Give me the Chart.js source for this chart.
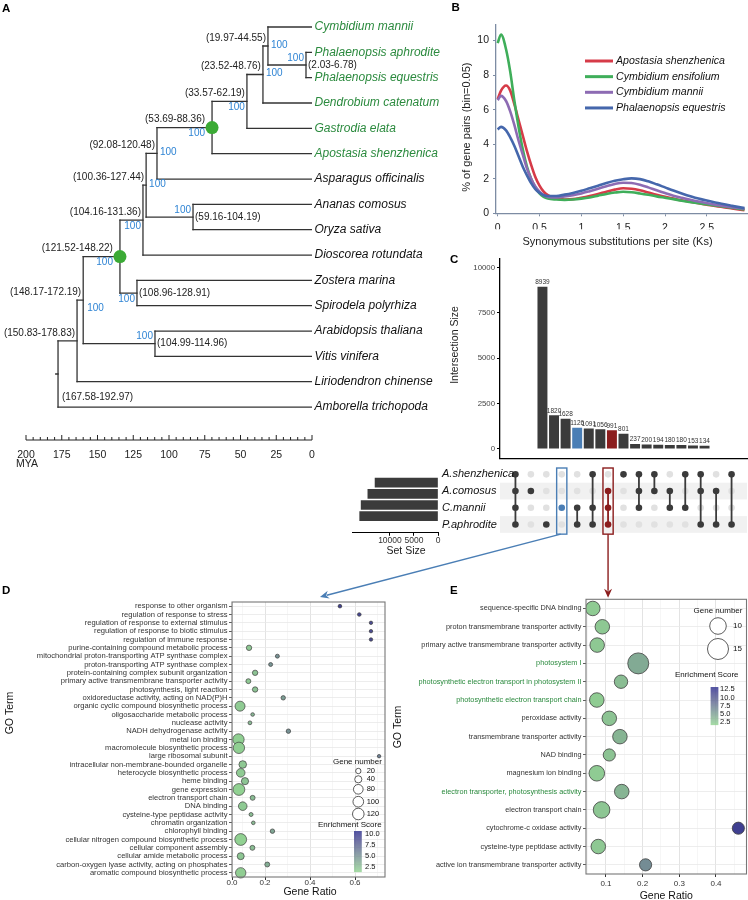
<!DOCTYPE html>
<html>
<head>
<meta charset="utf-8">
<title>Orchid genome figure</title>
<script src="https://cdn.jsdelivr.net/npm/chart.js@4.4.1/dist/chart.umd.min.js"></script>
<style>
html,body{margin:0;padding:0;background:#ffffff;}
body{position:relative;width:748px;height:900px;overflow:hidden;}
canvas{position:absolute;display:block;}
.plab{position:absolute;font-family:"Liberation Sans",Arial,sans-serif;font-weight:bold;font-size:11.5px;line-height:11.5px;color:#000;}
</style>
</head>
<body>
<canvas id="cTree" width="470" height="475" style="left:0px;top:0px"></canvas>
<canvas id="cKs" width="378" height="250" style="left:370px;top:0px"></canvas>
<canvas id="cUp" width="378" height="215" style="left:370px;top:250px"></canvas>
<canvas id="cSet" width="105" height="100" style="left:340px;top:460px"></canvas>
<canvas id="cMat" width="308" height="80" style="left:440px;top:460px"></canvas>
<canvas id="cD" width="386" height="320" style="left:0px;top:580px"></canvas>
<canvas id="cE" width="362" height="320" style="left:386px;top:580px"></canvas>
<canvas id="cOv" width="748" height="900" style="left:0px;top:0px;pointer-events:none"></canvas>
<div class="plab" style="left:2px;top:2.7px">A</div>
<div class="plab" style="left:451.5px;top:1.7px">B</div>
<div class="plab" style="left:450px;top:253.7px">C</div>
<div class="plab" style="left:2px;top:584.7px">D</div>
<div class="plab" style="left:450px;top:585.4px">E</div>
<script>
const FONT='"Liberation Sans", Arial, Helvetica, sans-serif';
Chart.defaults.font.family=FONT;
Chart.defaults.color='#222';
Chart.defaults.animation=false;

// ================= DATA =================
// ---- Panel A: dated phylogeny ----
const leafNames=['Cymbidium mannii','Phalaenopsis aphrodite','Phalaenopsis equestris','Dendrobium catenatum','Gastrodia elata','Apostasia shenzhenica','Asparagus officinalis','Ananas comosus','Oryza sativa','Dioscorea rotundata','Zostera marina','Spirodela polyrhiza','Arabidopsis thaliana','Vitis vinifera','Liriodendron chinense','Amborella trichopoda'];
const leafOrchid=[1,1,1,1,1,1,0,0,0,0,0,0,0,0,0,0];
// internal nodes (ids 16..30): children ids
const nodeChildren=[[1,2],[0,16],[17,3],[18,4],[19,5],[20,6],[7,8],[21,22],[23,9],[10,11],[24,25],[12,13],[26,27],[28,14],[29,15]];
const nodeAges=[4.2,30.8,34.3,45.5,69.9,108.4,83.2,116.0,118.2,122.4,134.3,109.8,160.0,164.3,177.6];
const nodeCI=['(2.03-6.78)','(19.97-44.55)','(23.52-48.76)','(33.57-62.19)','(53.69-88.36)','(92.08-120.48)','(59.16-104.19)','(100.36-127.44)','(104.16-131.36)','(108.96-128.91)','(121.52-148.22)','(104.99-114.96)','(148.17-172.19)','(150.83-178.83)','(167.58-192.97)'];
const nodeSupport=[100,100,100,100,100,100,100,100,100,100,100,100,100,null,null];
const calibratedNodes=[20,26];
const timeTickLabels=[200,175,150,125,100,75,50,25,0];

// ---- Panel B: Ks distributions ----
const ksSpecies=['Apostasia shenzhenica','Cymbidium ensifolium','Cymbidium mannii','Phalaenopsis equestris'];
const ksX=[0,0.04,0.1,0.15,0.2,0.25,0.3,0.35,0.4,0.45,0.5,0.55,0.6,0.7,0.8,0.9,1.0,1.1,1.2,1.3,1.4,1.5,1.6,1.7,1.8,1.9,2.0,2.1,2.2,2.4,2.6,2.8,2.95];
const ksApostasia=[6.6,7.1,7.4,7.1,6.3,5.4,4.5,3.6,2.8,2.1,1.6,1.25,1.05,0.85,0.8,0.82,0.9,1.0,1.12,1.25,1.37,1.45,1.42,1.33,1.2,1.07,0.95,0.85,0.75,0.58,0.42,0.28,0.18];
const ksEnsifolium=[9.85,10.35,9.5,8.2,6.5,5.0,3.7,2.7,2.0,1.5,1.15,0.95,0.85,0.8,0.78,0.8,0.85,0.92,1.02,1.12,1.2,1.25,1.22,1.15,1.07,0.98,0.9,0.82,0.73,0.58,0.45,0.32,0.22];
const ksMannii=[6.55,6.8,6.5,5.9,5.1,4.2,3.4,2.6,2.0,1.55,1.25,1.05,0.95,0.92,0.97,1.05,1.15,1.28,1.42,1.57,1.7,1.77,1.75,1.65,1.5,1.33,1.17,1.02,0.9,0.68,0.5,0.35,0.26];
const ksEquestris=[4.85,5.0,4.8,4.4,3.9,3.3,2.7,2.2,1.75,1.4,1.18,1.05,1.0,1.0,1.08,1.18,1.3,1.45,1.6,1.75,1.88,1.97,2.02,1.98,1.85,1.68,1.5,1.32,1.15,0.85,0.62,0.43,0.3];
const ksYTicks=[0,2,4,6,8,10];
const ksXTicks=[0,0.5,1,1.5,2,2.5];

// ---- Panel C: UpSet ----
const setNames=['A.shenzhenica','A.comosus','C.mannii','P.aphrodite'];
const setSizes=[13100,14600,16000,16300];
const interSizes=[8939,1820,1628,1126,1091,1056,991,801,237,200,194,180,180,153,134];
const interMembers=[[0,1,2,3],[1],[3],[2],[2,3],[0,2,3],[1,2,3],[0],[0,1,2],[0,1],[1,2],[0,2],[0,1,3],[1,3],[0,3]];
const highlightBlue=3, highlightRed=6;
const upsetTicks=[0,2500,5000,7500,10000];
const setTicks=[0,5000,10000];

// ---- Panel D: GO enrichment (C.mannii specific) ----
const goTermsD=['response to other organism','regulation of response to stress','regulation of response to external stimulus','regulation of response to biotic stimulus','regulation of immune response','purine-containing compound metabolic process','mitochondrial proton-transporting ATP synthase complex','proton-transporting ATP synthase complex','protein-containing complex subunit organization','primary active transmembrane transporter activity','photosynthesis, light reaction','oxidoreductase activity, acting on NAD(P)H','organic cyclic compound biosynthetic process','oligosaccharide metabolic process','nuclease activity','NADH dehydrogenase activity','metal ion binding','macromolecule biosynthetic process','large ribosomal subunit','intracellular non-membrane-bounded organelle','heterocycle biosynthetic process','heme binding','gene expression','electron transport chain','DNA binding','cysteine-type peptidase activity','chromatin organization','chlorophyll binding','cellular nitrogen compound biosynthetic process','cellular component assembly','cellular amide metabolic process','carbon-oxygen lyase activity, acting on phosphates','aromatic compound biosynthetic process'];
const ratioD=[0.533,0.619,0.671,0.671,0.671,0.129,0.255,0.225,0.156,0.126,0.156,0.281,0.089,0.145,0.133,0.304,0.082,0.084,0.707,0.101,0.092,0.111,0.084,0.145,0.101,0.138,0.148,0.233,0.092,0.144,0.092,0.210,0.092];
const countD=[7,7,6,6,6,20,9,9,20,16,20,12,86,7,8,12,115,115,6,46,61,40,125,16,61,9,7,12,125,16,38,16,94];
const scoreD=[9.6,9.4,9.0,9.0,9.0,2.0,5.0,4.8,2.3,2.0,2.3,4.3,1.8,3.0,2.8,5.0,1.6,1.6,6.0,2.0,1.8,2.2,1.5,2.6,1.9,2.5,2.7,3.8,1.5,2.5,2.1,3.4,1.7];
const dScoreRange=[1.35,10.7];
const dTickValues=[0.0533,0.1,0.2,0.3,0.4,0.5,0.6,0.7];
const dTickLabels=['0.0','','0.2','','0.4','','0.6',''];
const legendCountsD=[20,40,80,100,120];
const legendScoresD=[10.0,7.5,5.0,2.5];

// ---- Panel E: GO enrichment (shared C.mannii/P.aphrodite/A.comosus) ----
const goTermsE=['sequence-specific DNA binding','proton transmembrane transporter activity','primary active transmembrane transporter activity','photosystem I','photosynthetic electron transport in photosystem II','photosynthetic electron transport chain','peroxidase activity','transmembrane transporter activity','NAD binding','magnesium ion binding','electron transporter, photosynthesis activity','electron transport chain','cytochrome-c oxidase activity','cysteine-type peptidase activity','active ion transmembrane transporter activity'];
const photoTermE=[0,0,0,1,1,1,0,0,0,0,1,0,0,0,0];
const ratioE=[0.064,0.090,0.076,0.188,0.141,0.075,0.109,0.138,0.109,0.075,0.143,0.088,0.461,0.079,0.208];
const countE=[8,8,8,15,7,8,8,8,6,9,8,10,6,8,6];
const scoreE=[2.3,2.5,2.5,4.5,3.2,2.2,2.8,3.8,2.8,2.3,3.8,2.6,12.0,2.5,6.5];
const eScoreRange=[1.7,13.2];
const eTickValues=[0.05,0.1,0.15,0.2,0.25,0.3,0.35,0.4,0.45];
const eTickLabels=['','0.1','','0.2','','0.3','','0.4',''];
const legendCountsE=[10,15];
const legendScoresE=[12.5,10.0,7.5,5.0,2.5];

// ================= STYLE =================
const GREEN_TXT='#2B8A3E', BS_BLUE='#2F84D4', DOT_GREEN='#3BAA35';
const KS_COLORS=['#D63B48','#3FAE5A','#8D6BB3','#4567AC'];
const UP_DARK='#3B3B3B', UP_BLUE='#4A7EB5', UP_RED='#8B1D1D';
const LOW_COL='#92D492', HIGH_COL='#2C2F8E';
const ciPlace=['r','la','la','la','la','la','r','la','la','r','la','r','la','la','root'];
const bsPlace=['la','r','r','lb','lb','r','la','r','lb','lb','lb','la','rb',null,null];

function txt(ctx,s,x,y,font,color,align,base,rot){ctx.save();ctx.font=font;ctx.fillStyle=color;ctx.textAlign=align||'left';ctx.textBaseline=base||'middle';ctx.translate(x,y);if(rot)ctx.rotate(rot);ctx.fillText(s,0,0);ctx.restore();}
function hex2rgb(h){return [parseInt(h.slice(1,3),16),parseInt(h.slice(3,5),16),parseInt(h.slice(5,7),16)];}
function s2l(c){c/=255;return c<=0.04045?c/12.92:Math.pow((c+0.055)/1.055,2.4);}
function l2s(c){const v=c<=0.0031308?12.92*c:1.055*Math.pow(c,1/2.4)-0.055;return Math.max(0,Math.min(255,Math.round(v*255)));}
function rgb2lab(rgb){const r=s2l(rgb[0]),g=s2l(rgb[1]),b=s2l(rgb[2]);
 const X=(0.4124*r+0.3576*g+0.1805*b)/0.95047,Y=0.2126*r+0.7152*g+0.0722*b,Z=(0.0193*r+0.1192*g+0.9505*b)/1.08883;
 const f=t=>t>0.008856?Math.cbrt(t):7.787*t+16/116;const fx=f(X),fy=f(Y),fz=f(Z);return [116*fy-16,500*(fx-fy),200*(fy-fz)];}
function lab2rgb(l){const fy=(l[0]+16)/116,fx=fy+l[1]/500,fz=fy-l[2]/200;const fi=t=>t*t*t>0.008856?t*t*t:(t-16/116)/7.787;
 const X=fi(fx)*0.95047,Y=fi(fy),Z=fi(fz)*1.08883;
 return [l2s(3.2406*X-1.5372*Y-0.4986*Z),l2s(-0.9689*X+1.8758*Y+0.0415*Z),l2s(0.0557*X-0.2040*Y+1.0570*Z)];}
const LAB_LO=rgb2lab(hex2rgb(LOW_COL)),LAB_HI=rgb2lab(hex2rgb(HIGH_COL));
function scoreColor(s,range){let t=(s-range[0])/(range[1]-range[0]);t=Math.max(0,Math.min(1,t));
 const c=lab2rgb([0,1,2].map(i=>LAB_LO[i]+(LAB_HI[i]-LAB_LO[i])*t));return 'rgb('+c[0]+','+c[1]+','+c[2]+')';}
const rD=n=>0.478*Math.sqrt(n)+0.56;
const rE=n=>3.1*Math.sqrt(n)-1.5;
const base={responsive:false,animation:false,events:[],plugins:{legend:{display:false},tooltip:{enabled:false}}};
const lay=p=>({autoPadding:false,padding:p});

// ================= PANEL A =================
const NL=leafNames.length;
function yOf(id){if(id<NL)return id;const c=nodeChildren[id-NL];return (yOf(c[0])+yOf(c[1]))/2;}
function ageOf(id){return id<NL?0:nodeAges[id-NL];}
const treeSegs=[];
nodeChildren.forEach((c,k)=>{const a=nodeAges[k];
 treeSegs.push([{x:a,y:yOf(c[0])},{x:a,y:yOf(c[1])}]);
 c.forEach(ch=>treeSegs.push([{x:a,y:yOf(ch)},{x:ageOf(ch),y:yOf(ch)}]));});
const rootId=NL+nodeChildren.length-1;
treeSegs.push([{x:ageOf(rootId),y:yOf(rootId)},{x:ageOf(rootId)+1.6,y:yOf(rootId)}]);

const treePlugin={id:'treeText',afterDatasetsDraw(chart){
 const ctx=chart.ctx,x=chart.scales.x,y=chart.scales.y,ca=chart.chartArea;
 leafNames.forEach((n,i)=>txt(ctx,n,x.getPixelForValue(0)+2.5,y.getPixelForValue(i),'italic 12px '+FONT,leafOrchid[i]?GREEN_TXT:'#111'));
 const f='10px '+FONT;
 nodeChildren.forEach((c,k)=>{const id=k+NL,nx=x.getPixelForValue(nodeAges[k]),ny=y.getPixelForValue(yOf(id));
  const dot=calibratedNodes.includes(id)?5:0;const cp=ciPlace[k];
  if(cp==='la')txt(ctx,nodeCI[k],nx-2-dot,ny-8,f,'#222','right');
  else if(cp==='r')txt(ctx,nodeCI[k],nx+2,ny,f,'#222','left');
  else if(cp==='root')txt(ctx,nodeCI[k],nx+4,y.getPixelForValue(c[1])-10,f,'#222','left');
  const bp=bsPlace[k];if(nodeSupport[k]==null||!bp)return;const s=String(nodeSupport[k]);
  if(bp==='la')txt(ctx,s,nx-2-dot,ny-7,f,BS_BLUE,'right');
  else if(bp==='lb')txt(ctx,s,nx-2-dot,ny+6,f,BS_BLUE,'right');
  else if(bp==='r')txt(ctx,s,nx+3,ny-1,f,BS_BLUE,'left');
  else if(bp==='rb')txt(ctx,s,nx+4,ny+8,f,BS_BLUE,'left');
 });
 // time axis
 const ay=ca.bottom;ctx.save();ctx.strokeStyle='#222';ctx.lineWidth=1;
 ctx.beginPath();ctx.moveTo(x.getPixelForValue(200),ay);ctx.lineTo(x.getPixelForValue(0),ay);ctx.stroke();
 for(let v=0;v<=200;v+=5){const px=x.getPixelForValue(v);const maj=timeTickLabels.includes(v);
  ctx.beginPath();ctx.moveTo(px,ay);ctx.lineTo(px,ay-(maj?5:3));ctx.stroke();}
 ctx.restore();
 timeTickLabels.forEach(v=>txt(ctx,String(v),x.getPixelForValue(v),ay+15,'10.5px '+FONT,'#222','center'));
 txt(ctx,'MYA',x.getPixelForValue(200)+1,ay+24.5,'10.5px '+FONT,'#222','center');
}};
new Chart(document.getElementById('cTree'),{type:'scatter',
 data:{datasets:[...treeSegs.map(s=>({type:'line',data:s,borderColor:'#333',borderWidth:1.3,pointRadius:0,fill:false,borderCapStyle:'square',order:2})),
  {type:'scatter',data:calibratedNodes.map(id=>({x:ageOf(id),y:yOf(id)})),pointRadius:6.5,pointBackgroundColor:DOT_GREEN,pointBorderWidth:0,order:0}]},
 options:{...base,layout:lay({left:26,right:158,top:1.67,bottom:35}),
  scales:{x:{type:'linear',reverse:true,min:0,max:200,display:false},y:{type:'linear',reverse:true,min:-1,max:16.3,display:false}}},
 plugins:[treePlugin]});

// ================= PANEL B =================
const ksSeries=[ksApostasia,ksEnsifolium,ksMannii,ksEquestris];
const ksOrder=[3,2,1,0];
const AX='#7D8CA3';
const ksPlugin={id:'ksDeco',afterDraw(chart){const ctx=chart.ctx,ca=chart.chartArea;
 txt(ctx,'Synonymous substitutions per site (Ks)',(ca.left+ca.right)/2-4,242,'11px '+FONT,'#222','center');
 txt(ctx,'% of gene pairs (bin=0.05)',97,(ca.top+ca.bottom)/2+8,'11px '+FONT,'#222','center','middle',-Math.PI/2);
 ksSpecies.forEach((n,i)=>{const yy=61+i*15.65;ctx.save();ctx.strokeStyle=KS_COLORS[i];ctx.lineWidth=3;
  ctx.beginPath();ctx.moveTo(215,yy);ctx.lineTo(243,yy);ctx.stroke();ctx.restore();
  txt(ctx,n,246,yy,'italic 10.6px '+FONT,'#111','left');});
}};
new Chart(document.getElementById('cKs'),{type:'line',
 data:{datasets:ksSeries.map((s,i)=>({label:ksSpecies[i],data:ksX.map((x,j)=>({x:x,y:s[j]})),borderColor:KS_COLORS[i],borderWidth:2.6,pointRadius:0,cubicInterpolationMode:'monotone',fill:false,order:ksOrder[i]}))},
 options:{...base,layout:lay({left:0,right:1,top:25,bottom:20.7}),
  scales:{x:{type:'linear',min:-0.02,max:2.98,afterBuildTicks:s=>{s.ticks=ksXTicks.map(v=>({value:v}));},
    ticks:{callback:v=>String(v),font:{size:10.5},color:'#222',padding:6,maxRotation:0,autoSkip:false},
    grid:{drawOnChartArea:false,color:AX,tickLength:3},border:{color:AX,width:1.3},afterFit:s=>{s.height=16;}},
   y:{type:'linear',min:0,max:10.9,afterBuildTicks:s=>{s.ticks=ksYTicks.map(v=>({value:v}));},
    ticks:{callback:v=>String(v),font:{size:10.5},color:'#222',padding:4,autoSkip:false},
    grid:{drawOnChartArea:false,color:AX,tickLength:3},border:{color:AX,width:1.3},afterFit:s=>{s.width=126;}}}},
 plugins:[ksPlugin]});

// ================= PANEL C =================
const colColor=i=>i===highlightBlue?UP_BLUE:(i===highlightRed?UP_RED:UP_DARK);
const upPlugin={id:'upDeco',afterDatasetsDraw(chart){const ctx=chart.ctx,x=chart.scales.x,y=chart.scales.y;
 interSizes.forEach((v,i)=>txt(ctx,String(v),x.getPixelForValue(i),y.getPixelForValue(v)-1.5,'6.5px '+FONT,'#333','center','bottom'));
 txt(ctx,'Intersection Size',85,95,'10.5px '+FONT,'#222','center','middle',-Math.PI/2);
}};
new Chart(document.getElementById('cUp'),{type:'bar',
 data:{datasets:[{data:interSizes.map((v,i)=>({x:i,y:v})),backgroundColor:interSizes.map((v,i)=>colColor(i)),barThickness:9.3}]},
 options:{...base,layout:lay({left:0,right:1,top:9,bottom:2}),
  scales:{x:{type:'linear',min:-1,max:15,grid:{display:false},ticks:{display:false},border:{display:true,color:'#000',width:1.3},afterFit:s=>{s.height=0;}},
   y:{type:'linear',min:-540,max:10486,afterBuildTicks:s=>{s.ticks=upsetTicks.map(v=>({value:v}));},
    ticks:{callback:v=>String(v),font:{size:7.8},color:'#444',padding:2,autoSkip:false},
    grid:{drawOnChartArea:false,color:'#000',tickLength:3},border:{display:true,color:'#000',width:1.3},afterFit:s=>{s.width=130;}}}},
 plugins:[upPlugin]});

// set size bars
const setPlugin={id:'setDeco',afterDraw(chart){txt(chart.ctx,'Set Size',66,91,'10.5px '+FONT,'#222','center');}};
new Chart(document.getElementById('cSet'),{type:'bar',
 data:{datasets:[{data:setSizes.map((v,i)=>({x:v,y:i})),backgroundColor:UP_DARK,barThickness:9}]},
 options:{...base,indexAxis:'y',layout:lay({left:12,right:7,top:6,bottom:15.2}),
  scales:{x:{type:'linear',reverse:true,min:0,max:17900,afterBuildTicks:s=>{s.ticks=setTicks.map(v=>({value:v}));},
    ticks:{callback:v=>String(v),font:{size:8.5},color:'#333',padding:0,maxRotation:0,autoSkip:false},
    grid:{drawOnChartArea:false,color:'#000',tickLength:3},border:{display:true,color:'#000',width:1},afterFit:s=>{s.height=12;}},
   y:{type:'linear',reverse:true,min:-0.5,max:3.5,display:false}}},
 plugins:[setPlugin]});

// matrix
const memberPts=[],emptyPts=[],memberCols=[];
interMembers.forEach((m,c)=>{setNames.forEach((n,r)=>{if(m.includes(r)){memberPts.push({x:c,y:r});memberCols.push(colColor(c));}else emptyPts.push({x:c,y:r});});});
const matLines=interMembers.map((m,c)=>m.length>1?{type:'line',data:[{x:c,y:Math.min(...m)},{x:c,y:Math.max(...m)}],borderColor:colColor(c),borderWidth:1.8,pointRadius:0,order:1}:null).filter(Boolean);
const matPlugin={id:'matDeco',
 beforeDatasetsDraw(chart){const ctx=chart.ctx,y=chart.scales.y,ca=chart.chartArea;ctx.save();ctx.fillStyle='#F1F1F1';
  setNames.forEach((n,r)=>{if(r%2===1){const t=y.getPixelForValue(r-0.5),b=y.getPixelForValue(r+0.5);ctx.fillRect(ca.left,t,ca.right-ca.left,b-t);}});ctx.restore();},
 afterDatasetsDraw(chart){const ctx=chart.ctx,x=chart.scales.x,y=chart.scales.y;
  setNames.forEach((n,r)=>txt(ctx,n,2,y.getPixelForValue(r),'italic 11px '+FONT,'#111','left'));
  [[highlightBlue,UP_BLUE],[highlightRed,UP_RED]].forEach(([c,col])=>{const x0=x.getPixelForValue(c-0.33),x1=x.getPixelForValue(c+0.33),y0=y.getPixelForValue(-0.38),y1=y.getPixelForValue(3.58);
   ctx.save();ctx.strokeStyle=col;ctx.lineWidth=1.4;ctx.strokeRect(x0,y0,x1-x0,y1-y0);ctx.restore();});
 }};
const matChart=new Chart(document.getElementById('cMat'),{type:'scatter',
 data:{datasets:[{data:memberPts,pointRadius:3.3,pointBackgroundColor:memberCols,pointBorderWidth:0,order:0},...matLines,
  {data:emptyPts,pointRadius:3.3,pointBackgroundColor:'#E1E1E1',pointBorderWidth:0,order:2}]},
 options:{...base,layout:lay({left:60,right:1,top:6,bottom:7.2}),
  scales:{x:{type:'linear',min:-1,max:15,display:false},y:{type:'linear',reverse:true,min:-0.5,max:3.5,display:false}}},
 plugins:[matPlugin]});

// ================= PANEL D & E =================
const framePlugin={id:'frame',afterDatasetsDraw(chart){const ctx=chart.ctx,ca=chart.chartArea;ctx.save();ctx.strokeStyle='#777';ctx.lineWidth=1.1;ctx.strokeRect(ca.left,ca.top,ca.right-ca.left,ca.bottom-ca.top);ctx.restore();}};
function colorBar(ctx,x0,x1,top,bot,range){for(let py=top;py<bot;py+=0.5){const s=range[0]+(bot-py)/(bot-top)*(range[1]-range[0]);ctx.fillStyle=scoreColor(s,range);ctx.fillRect(x0,py,x1-x0,0.6);}}
const dPlugin={id:'dDeco',afterDraw(chart){const ctx=chart.ctx,ca=chart.chartArea;const R=ca.right,B=ca.bottom;
 txt(ctx,'Gene Ratio',(ca.left+ca.right)/2+1.5,312,'10.5px '+FONT,'#111','center');
 txt(ctx,'GO Term',10,133,'10.5px '+FONT,'#111','center','middle',-Math.PI/2);
 txt(ctx,'Gene number',R-52,B-115,'8px '+FONT,'#111','left');
 const cy=[B-106,B-97.7,B-87.7,B-75.3,B-63];
 legendCountsD.forEach((n,i)=>{ctx.save();ctx.beginPath();ctx.arc(R-26.7,cy[i],rD(n),0,Math.PI*2);ctx.fillStyle='#fff';ctx.fill();ctx.strokeStyle='#333';ctx.lineWidth=0.8;ctx.stroke();ctx.restore();
  txt(ctx,String(n),R-18.3,cy[i],'7.5px '+FONT,'#111','left');});
 txt(ctx,'Enrichment Score',R-67,B-52.7,'8px '+FONT,'#111','left');
 const bt=B-46,bb=B-5.3;colorBar(ctx,R-31,R-23.3,bt,bb,dScoreRange);
 legendScoresD.forEach(v=>{const py=bb-(v-dScoreRange[0])/(dScoreRange[1]-dScoreRange[0])*(bb-bt);txt(ctx,v.toFixed(1),R-20,py,'7.5px '+FONT,'#111','left');});
}};
const dChart=new Chart(document.getElementById('cD'),{type:'scatter',
 data:{datasets:[{data:goTermsD.map((t,i)=>({x:ratioD[i],y:t})),pointRadius:c=>rD(countD[c.dataIndex]),pointBackgroundColor:c=>scoreColor(scoreD[c.dataIndex],dScoreRange),pointBorderColor:'#3f3f3f',pointBorderWidth:0.7}]},
 options:{...base,layout:lay({left:0,right:1,top:22,bottom:9}),
  scales:{x:{type:'linear',min:dTickValues[0],max:0.7333,afterBuildTicks:s=>{s.ticks=dTickValues.map(v=>({value:v}));},
    ticks:{callback:(v,i)=>dTickLabels[i],font:{size:8},color:'#333',padding:-2,maxRotation:0,autoSkip:false},
    grid:{color:c=>dTickLabels[c.index]?'#E3E3E3':'#F0F0F0',lineWidth:c=>dTickLabels[c.index]?1:0.6,tickLength:3,tickColor:c=>dTickLabels[c.index]?'#333':'rgba(0,0,0,0)'},border:{display:false},afterFit:s=>{s.height=14;}},
   y:{type:'category',labels:goTermsD,offset:true,ticks:{font:{size:7.6},color:'#333',padding:1.5,autoSkip:false},
    grid:{color:'#E8E8E8',lineWidth:0.8,tickLength:3,tickColor:'#333'},border:{display:false},afterFit:s=>{s.width=232;}}}},
 plugins:[framePlugin,dPlugin]});

const ePlugin={id:'eDeco',afterDraw(chart){const ctx=chart.ctx,ca=chart.chartArea;const R=ca.right,T=ca.top;
 txt(ctx,'Gene Ratio',(ca.left+ca.right)/2,316,'10.5px '+FONT,'#111','center');
 txt(ctx,'GO Term',12,147,'10.5px '+FONT,'#111','center','middle',-Math.PI/2);
 txt(ctx,'Gene number',R-28.5,T+11.7,'8px '+FONT,'#111','center');
 const cy=[T+26.7,T+49.7];
 legendCountsE.forEach((n,i)=>{ctx.save();ctx.beginPath();ctx.arc(R-28.5,cy[i],rE(n),0,Math.PI*2);ctx.fillStyle='#fff';ctx.fill();ctx.strokeStyle='#333';ctx.lineWidth=0.8;ctx.stroke();ctx.restore();
  txt(ctx,String(n),R-13.5,cy[i],'8px '+FONT,'#111','left');});
 txt(ctx,'Enrichment Score',R-39.8,T+75.7,'8px '+FONT,'#111','center');
 const bt=T+87.7,bb=T+125.7;colorBar(ctx,R-35.8,R-28.2,bt,bb,eScoreRange);
 legendScoresE.forEach(v=>{const py=bb-(v-eScoreRange[0])/(eScoreRange[1]-eScoreRange[0])*(bb-bt);txt(ctx,v.toFixed(1),R-26.5,py,'7.5px '+FONT,'#111','left');});
}};
const eChart=new Chart(document.getElementById('cE'),{type:'scatter',
 data:{datasets:[{data:goTermsE.map((t,i)=>({x:ratioE[i],y:t})),pointRadius:c=>rE(countE[c.dataIndex]),pointBackgroundColor:c=>scoreColor(scoreE[c.dataIndex],eScoreRange),pointBorderColor:'#3f3f3f',pointBorderWidth:0.8}]},
 options:{...base,layout:lay({left:0,right:1.5,top:19.3,bottom:12}),
  scales:{x:{type:'linear',min:0.0455,max:0.4832,afterBuildTicks:s=>{s.ticks=eTickValues.map(v=>({value:v}));},
    ticks:{callback:(v,i)=>eTickLabels[i],font:{size:8},color:'#333',padding:2,maxRotation:0,autoSkip:false},
    grid:{color:c=>eTickLabels[c.index]?'#E3E3E3':'#F0F0F0',lineWidth:c=>eTickLabels[c.index]?1:0.6,tickLength:3,tickColor:c=>eTickLabels[c.index]?'#333':'rgba(0,0,0,0)'},border:{display:false},afterFit:s=>{s.height=14;}},
   y:{type:'category',labels:goTermsE,offset:true,ticks:{font:{size:7.3},color:c=>photoTermE[c.index]?GREEN_TXT:'#333',padding:1.5,autoSkip:false},
    grid:{color:'#E8E8E8',lineWidth:0.8,tickLength:3,tickColor:'#333'},border:{display:false},afterFit:s=>{s.width=200;}}}},
 plugins:[framePlugin,ePlugin]});

// ================= ARROWS (overlay) =================
function arrow(ctx,x0,y0,x1,y1,col){const a=Math.atan2(y1-y0,x1-x0),L=9,W=4;const bx=x1-L*Math.cos(a),by=y1-L*Math.sin(a);
 ctx.save();ctx.strokeStyle=col;ctx.fillStyle=col;ctx.lineWidth=1.4;ctx.beginPath();ctx.moveTo(x0,y0);ctx.lineTo(bx+2*Math.cos(a),by+2*Math.sin(a));ctx.stroke();
 ctx.beginPath();ctx.moveTo(x1,y1);ctx.lineTo(bx+W*Math.sin(a),by-W*Math.cos(a));ctx.lineTo(bx+0.3*L*Math.cos(a),by+0.3*L*Math.sin(a));ctx.lineTo(bx-W*Math.sin(a),by+W*Math.cos(a));ctx.closePath();ctx.fill();ctx.restore();}
(function(){const ov=document.getElementById('cOv').getContext('2d');
 const mc=matChart.canvas,dc=dChart.canvas,ec=eChart.canvas;
 const ml=mc.offsetLeft,mt=mc.offsetTop;
 const yb=mt+matChart.scales.y.getPixelForValue(3.58);
 const xb=ml+matChart.scales.x.getPixelForValue(highlightBlue)-1;
 const dca=dChart.chartArea;
 arrow(ov,xb,yb,dc.offsetLeft+dca.left+0.575*(dca.right-dca.left),dc.offsetTop+dca.top-5,UP_BLUE);
 const xr=ml+matChart.scales.x.getPixelForValue(highlightRed);
 arrow(ov,xr,yb,xr,ec.offsetTop+eChart.chartArea.top-1.5,UP_RED);
})();
</script>
</body>
</html>
